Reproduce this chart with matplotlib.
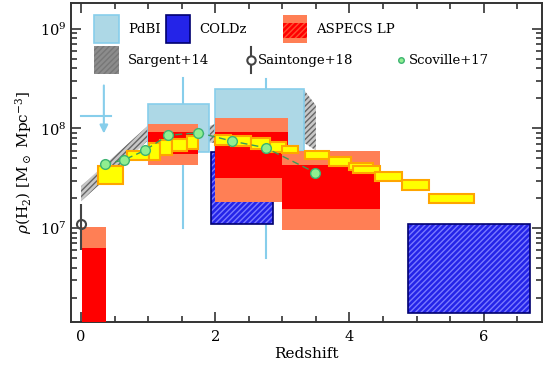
import matplotlib
matplotlib.use("Agg")
import matplotlib.pyplot as plt
from matplotlib.patches import Rectangle
from matplotlib.lines import Line2D
from matplotlib.ticker import MultipleLocator, LogLocator, NullFormatter

plt.rcParams["font.family"] = "DejaVu Serif"
plt.rcParams["mathtext.fontset"] = "dejavuserif"

# Sargent+14 band
sarg_z = [0.0, 1.0, 1.9, 2.6, 3.32, 3.5]
sarg_hi = [2.63e7, 1.07e8, 1.05e8, 1.58e8, 2.45e8, 1.70e8]
sarg_lo = [1.86e7, 7.6e7, 7.2e7, 7.2e7, 7.2e7, 6.0e7]

# PdBI boxes and error bars
pdbi_zlo = [1.0, 2.0]
pdbi_zhi = [1.9, 3.32]
pdbi_lo = [5.8e7, 6.0e7]
pdbi_hi = [1.74e8, 2.5e8]
pdbi_zc = [1.52, 2.75]
pdbi_err_lo = [1.0e7, 5.0e6]
pdbi_err_hi = [3.2e8, 3.1e8]
# PdBI upper limit
lim_z, lim_zlo, lim_zhi = 0.34, 0.0, 0.44
lim_val, lim_top, lim_tip = 1.33e8, 2.7e8, 8.9e7

# COLDz boxes
coldz_zlo = [1.94, 4.88]
coldz_zhi = [2.86, 6.69]
coldz_lo = [1.09e7, 1.4e6]
coldz_hi = [5.8e7, 1.1e7]

# ASPECS LP boxes (outer / inner)
asp_zlo = [0.01, 1.0, 2.0, 3.0]
asp_zhi = [0.37, 1.75, 3.09, 4.46]
asp_out_lo = [1e5, 4.3e7, 1.82e7, 9.5e6]
asp_out_hi = [1.02e7, 1.11e8, 1.28e8, 5.9e7]
asp_in_lo = [1e5, 5.6e7, 3.2e7, 1.57e7]
asp_in_hi = [6.3e6, 9.2e7, 9.2e7, 4.26e7]

# Yellow boxes
yel_zlo = [0.26, 0.69, 1.02, 1.18, 1.35, 1.58, 2.0, 2.24, 2.54, 2.81,
           3.0, 3.34, 3.69, 3.99, 4.05, 4.38, 4.78, 5.18]
yel_zhi = [0.63, 1.02, 1.17, 1.35, 1.58, 1.74, 2.24, 2.54, 2.81, 3.05,
           3.24, 3.69, 4.02, 4.35, 4.46, 4.79, 5.19, 5.85]
yel_lo = [2.79e7, 4.78e7, 4.78e7, 5.36e7, 5.92e7, 6.25e7, 6.87e7, 6.64e7, 6.25e7, 5.78e7,
          5.70e7, 4.97e7, 4.16e7, 3.79e7, 3.60e7, 2.94e7, 2.39e7, 1.77e7]
yel_hi = [4.16e7, 5.87e7, 7.13e7, 7.59e7, 7.76e7, 8.32e7, 8.51e7, 8.32e7, 8.0e7, 7.29e7,
          6.70e7, 5.92e7, 5.15e7, 4.46e7, 4.16e7, 3.62e7, 3.01e7, 2.21e7]

# Scoville+17 points
scov_z = [0.35, 0.645, 0.954, 1.29, 1.75, 2.25, 2.75, 3.49]
scov_rho = [4.36e7, 4.85e7, 6.03e7, 8.51e7, 9.06e7, 7.46e7, 6.40e7, 3.60e7]

# Saintonge+18
sain_z = [0.0]
sain_rho = [1.09e7]
sain_lo = [6.0e6]
sain_hi = [1.76e7]

LBLUE = "#add8e6"
SKY = "#87ceeb"
BLUE = "#2424e8"
SALMON = "#ff7f55"
RED = "#ff0000"
YELLOW = "#ffff00"
ORANGE = "#ffa500"
GRAY = "#444444"

fig = plt.figure(figsize=(5.46, 3.74), dpi=100)
ax = fig.add_axes([0.130, 0.139, 0.8627, 0.852])
ax.set_yscale("log")
ax.set_xlim(-0.15, 6.87)
ax.set_ylim(1.14e6, 1.8e9)

# Sargent band
ax.fill_between(sarg_z, sarg_lo, sarg_hi, facecolor="#c8c8c8", edgecolor="#666666",
                hatch="//////", linewidth=0, zorder=1)

# PdBI error bars then boxes
for zc, lo, hi in zip(pdbi_zc, pdbi_err_lo, pdbi_err_hi):
    ax.plot([zc, zc], [lo, hi], color=SKY, lw=1.5, zorder=2)
for zl, zh, lo, hi in zip(pdbi_zlo, pdbi_zhi, pdbi_lo, pdbi_hi):
    ax.add_patch(Rectangle((zl, lo), zh - zl, hi - lo, facecolor=LBLUE,
                           edgecolor=SKY, lw=1.2, zorder=3))
ax.plot([lim_zlo, lim_zhi], [lim_val, lim_val], color=SKY, lw=1.5, zorder=3)
ax.annotate("", xy=(lim_z, lim_tip), xytext=(lim_z, lim_top),
            arrowprops=dict(arrowstyle="-|>", color=SKY, lw=1.5,
                            mutation_scale=12, shrinkA=0, shrinkB=0), zorder=3)

# COLDz
for zl, zh, lo, hi in zip(coldz_zlo, coldz_zhi, coldz_lo, coldz_hi):
    ax.add_patch(Rectangle((zl, lo), zh - zl, hi - lo, facecolor=BLUE,
                           edgecolor="#7a7aff", hatch="//////", lw=0, zorder=4))
    ax.add_patch(Rectangle((zl, lo), zh - zl, hi - lo, facecolor="none",
                           edgecolor="#000070", lw=1.2, zorder=4))

# ASPECS LP
for i in range(len(asp_zlo)):
    w = asp_zhi[i] - asp_zlo[i]
    ax.add_patch(Rectangle((asp_zlo[i], asp_out_lo[i]), w, asp_out_hi[i] - asp_out_lo[i],
                           facecolor=SALMON, edgecolor="none", zorder=5))
    ax.add_patch(Rectangle((asp_zlo[i], asp_in_lo[i]), w, asp_in_hi[i] - asp_in_lo[i],
                           facecolor=RED, edgecolor="none", zorder=5))

# yellow boxes
for zl, zh, lo, hi in zip(yel_zlo, yel_zhi, yel_lo, yel_hi):
    ax.add_patch(Rectangle((zl, lo), zh - zl, hi - lo, facecolor=YELLOW,
                           edgecolor=ORANGE, lw=1.5, zorder=6))

# Scoville+17
ax.plot(scov_z, scov_rho, ls=(0, (5, 3)), color="#3a9a5a", lw=1.0, zorder=7)
ax.plot(scov_z, scov_rho, ls="none", marker="o", ms=7, mfc="#90ee90",
        mec="#3cb371", mew=1.0, zorder=8)

# Saintonge+18
ax.errorbar(sain_z, sain_rho,
            yerr=[[r - l for r, l in zip(sain_rho, sain_lo)],
                  [h - r for r, h in zip(sain_rho, sain_hi)]],
            fmt="o", ms=6.5, mfc="none", mec=GRAY, mew=1.5, ecolor=GRAY,
            elinewidth=1.5, capsize=0, zorder=9, clip_on=False)

# axes styling
ax.xaxis.set_major_locator(MultipleLocator(2))
ax.xaxis.set_minor_locator(MultipleLocator(0.5))
ax.yaxis.set_major_locator(LogLocator(base=10, numticks=10))
ax.yaxis.set_minor_locator(LogLocator(base=10, subs=range(2, 10), numticks=20))
ax.yaxis.set_minor_formatter(NullFormatter())
ax.tick_params(which="both", direction="in", top=True, right=True, color="#333333",
               width=1.2, labelsize=10.5)
ax.tick_params(which="major", length=7)
ax.tick_params(which="minor", length=4)
ax.tick_params(axis="x", pad=6)
for sp in ax.spines.values():
    sp.set_linewidth(1.4)
    sp.set_color("#333333")

ax.set_xlabel("Redshift", fontsize=11, labelpad=2)
ax.set_ylabel(r"$\rho(\mathrm{H_2})$ [M$_\odot$ Mpc$^{-3}$]", fontsize=11, labelpad=4)

# legend (drawn in axes coordinates)
T = ax.transAxes
pw, ph = 0.052, 0.086
fs = 9.5


def box(x, y, **kw):
    ax.add_patch(Rectangle((x, y - ph / 2), pw, ph, transform=T, zorder=20, **kw))


box(0.0495, 0.919, facecolor=LBLUE, edgecolor=SKY, lw=1.2)
ax.text(0.121, 0.919, "PdBI", transform=T, va="center", fontsize=fs, zorder=20)
box(0.201, 0.919, facecolor=BLUE, edgecolor="#000070", lw=1.2)
ax.text(0.2726, 0.919, "COLDz", transform=T, va="center", fontsize=fs, zorder=20)
box(0.4498, 0.919, facecolor=SALMON, edgecolor="none")
ax.add_patch(Rectangle((0.4498, 0.919 - ph * 0.32), pw, ph * 0.56, transform=T,
                       facecolor=RED, edgecolor="#ff5030", hatch="//////", lw=0, zorder=20))
ax.text(0.5205, 0.919, "ASPECS LP", transform=T, va="center", fontsize=fs, zorder=20)
box(0.0495, 0.822, facecolor="#8c8c8c", edgecolor="#777777", hatch="//////", lw=0)
ax.text(0.121, 0.822, "Sargent+14", transform=T, va="center", fontsize=fs, zorder=20)
ax.add_line(Line2D([0.3824, 0.3824], [0.822 - 0.04, 0.822 + 0.04], transform=T,
                   color=GRAY, lw=1.5, zorder=20))
ax.add_line(Line2D([0.3824], [0.822], transform=T, marker="o", ms=6, mfc="white",
                   mec=GRAY, mew=1.5, zorder=21))
ax.text(0.396, 0.822, "Saintonge+18", transform=T, va="center", fontsize=fs, zorder=20)
ax.add_line(Line2D([0.700], [0.822], transform=T, marker="o", ms=4, mfc="#90ee90",
                   mec="#3cb371", mew=1.0, zorder=20))
ax.text(0.718, 0.822, "Scoville+17", transform=T, va="center", fontsize=fs, zorder=20)

fig.savefig("out.png", dpi=100, facecolor="white")
